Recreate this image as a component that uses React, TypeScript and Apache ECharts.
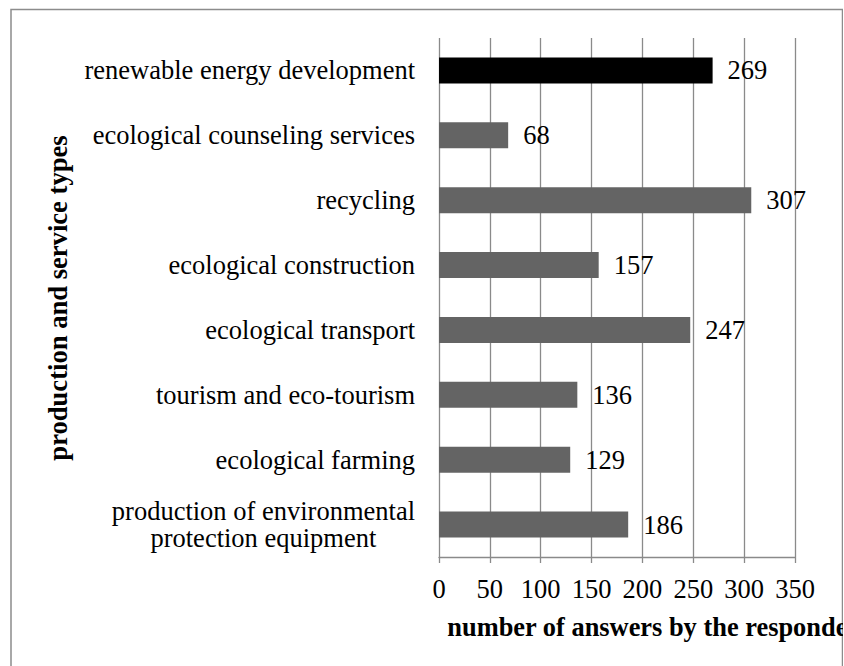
import React, { useEffect, useRef } from "react";
import * as echarts from "echarts";

const categories = [
  "renewable energy development",
  "ecological counseling services",
  "recycling",
  "ecological construction",
  "ecological transport",
  "tourism and eco-tourism",
  "ecological farming",
  "production of environmental\nprotection equipment",
];
const values = [269, 68, 307, 157, 247, 136, 129, 186];
const barColors = ["#000000", "#646464", "#646464", "#646464", "#646464", "#646464", "#646464", "#646464"];
const xTicks = { min: 0, max: 350, interval: 50 };
const yTitle = "production and service types";
const xTitle = "number of answers by the respondents";

const FONT = "Liberation Serif, Times New Roman, serif";
const FS = 26.5;

export default function App() {
  const ref = useRef<HTMLDivElement>(null);
  useEffect(() => {
    if (!ref.current) return;
    const chart = echarts.init(ref.current, undefined, { renderer: "svg" });
    chart.setOption({
      animation: false,
      backgroundColor: "#ffffff",
      textStyle: { fontFamily: FONT },
      grid: { left: 439, right: 105, top: 38, bottom: 109, containLabel: false },
      xAxis: {
        type: "value",
        min: xTicks.min,
        max: xTicks.max,
        interval: xTicks.interval,
        axisLine: { show: true, lineStyle: { color: "#8a8a8a", width: 1.3 } },
        axisTick: { show: true, length: 6, lineStyle: { color: "#8a8a8a", width: 1.3 } },
        splitLine: { show: true, lineStyle: { color: "#8a8a8a", width: 1.3 } },
        axisLabel: { color: "#000", fontFamily: FONT, fontSize: FS, margin: 18 },
      },
      yAxis: {
        type: "category",
        inverse: true,
        data: categories,
        axisLine: { show: false },
        axisTick: { show: false },
        splitLine: { show: false },
        axisLabel: {
          color: "#000",
          fontFamily: FONT,
          fontSize: FS,
          margin: 24,
          lineHeight: 27,
          formatter: (v: string) =>
            v
              .split("\n")
              .map((l) => "{c|" + l + "}")
              .join("\n"),
          rich: {
            c: { align: "center", fontFamily: FONT, fontSize: FS, color: "#000", lineHeight: 27 },
          },
        },
      },
      series: [
        {
          type: "bar",
          data: values.map((v, i) => ({ value: v, itemStyle: { color: barColors[i] } })),
          barWidth: 26,
          label: {
            show: true,
            position: "right",
            distance: 15,
            color: "#000",
            fontFamily: FONT,
            fontSize: FS,
          },
        },
      ],
      graphic: [
        {
          type: "rect",
          shape: { x: 11, y: 9.5, width: 831.5, height: 700 },
          style: { fill: "none", stroke: "#8c8c8c", lineWidth: 1.5 },
          silent: true,
        },
        {
          type: "text",
          x: 58,
          y: 298,
          rotation: Math.PI / 2,
          style: {
            text: yTitle,
            fontFamily: FONT,
            fontSize: 26.6,
            fontWeight: "bold",
            fill: "#000",
            align: "center",
            verticalAlign: "middle",
          },
        },
        {
          type: "text",
          x: 447.3,
          y: 627,
          style: {
            text: xTitle,
            fontFamily: FONT,
            fontSize: 26.4,
            fontWeight: "bold",
            fill: "#000",
            align: "left",
            verticalAlign: "middle",
          },
        },
      ],
    });
    return () => chart.dispose();
  }, []);
  return (
    <div style={{ position: "absolute", left: 0, top: 0, width: 843, height: 666, overflow: "hidden", background: "#fff" }}>
      <div ref={ref} style={{ width: 900, height: 666 }} />
    </div>
  );
}
